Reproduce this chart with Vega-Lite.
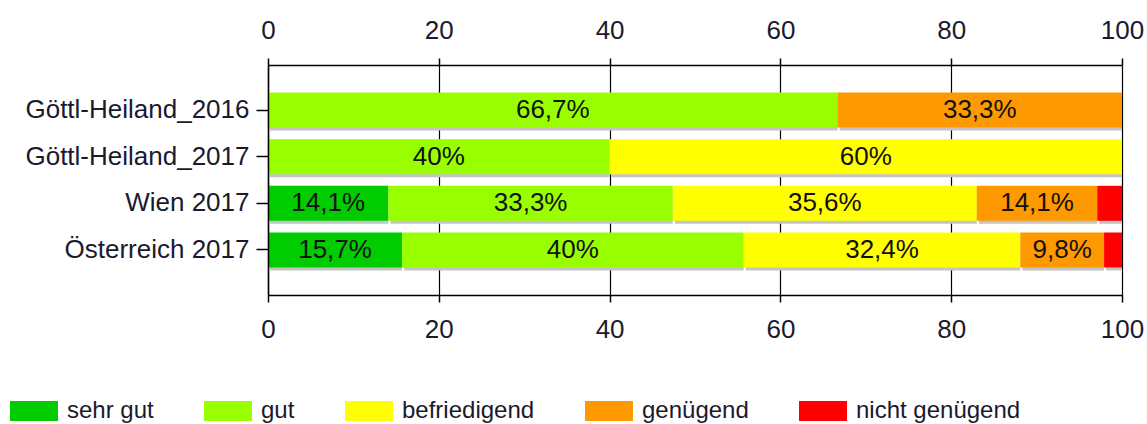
{
  "$schema": "https://vega.github.io/schema/vega-lite/v6.json",
  "autosize": {"type": "none"},
  "padding": {"left": 268, "top": 65, "right": 25, "bottom": 129},
  "width": 854,
  "height": 230,
  "background": "white",
  "config": {
    "view": {"stroke": null},
    "font": "Liberation Sans",
    "axis": {
      "domainColor": "#000",
      "tickColor": "#000",
      "gridColor": "#000",
      "domainWidth": 1.5,
      "tickWidth": 1.5,
      "gridWidth": 1.2,
      "labelColor": "#1a1a2e",
      "labelFont": "Liberation Sans",
      "labelFontSize": 26,
      "title": null
    },
    "legend": {
      "orient": "none",
      "legendX": -258,
      "legendY": 322,
      "direction": "horizontal",
      "title": null,
      "symbolType": "M-1,-0.42H1V0.42H-1Z",
      "symbolSize": 2304,
      "symbolStrokeWidth": 0,
      "symbolOpacity": 1,
      "labelFontSize": 24,
      "labelFont": "Liberation Sans",
      "labelColor": "#1a1a2e",
      "labelOffset": 9,
      "columnPadding": 50,
      "labelLimit": 400
    }
  },
  "data": {
    "values": [
      {"cat": "Göttl-Heiland_2016", "grade": "gut", "value": 66.7, "label": "66,7%"},
      {"cat": "Göttl-Heiland_2016", "grade": "genügend", "value": 33.3, "label": "33,3%"},
      {"cat": "Göttl-Heiland_2017", "grade": "gut", "value": 40, "label": "40%"},
      {"cat": "Göttl-Heiland_2017", "grade": "befriedigend", "value": 60, "label": "60%"},
      {"cat": "Wien 2017", "grade": "sehr gut", "value": 14.1, "label": "14,1%"},
      {"cat": "Wien 2017", "grade": "gut", "value": 33.3, "label": "33,3%"},
      {"cat": "Wien 2017", "grade": "befriedigend", "value": 35.6, "label": "35,6%"},
      {"cat": "Wien 2017", "grade": "genügend", "value": 14.1, "label": "14,1%"},
      {"cat": "Wien 2017", "grade": "nicht genügend", "value": 2.9, "label": ""},
      {"cat": "Österreich 2017", "grade": "sehr gut", "value": 15.7, "label": "15,7%"},
      {"cat": "Österreich 2017", "grade": "gut", "value": 40, "label": "40%"},
      {"cat": "Österreich 2017", "grade": "befriedigend", "value": 32.4, "label": "32,4%"},
      {"cat": "Österreich 2017", "grade": "genügend", "value": 9.8, "label": "9,8%"},
      {"cat": "Österreich 2017", "grade": "nicht genügend", "value": 2.1, "label": ""}
    ]
  },
  "transform": [
    {"calculate": "indexof(['sehr gut','gut','befriedigend','genügend','nicht genügend'], datum.grade)", "as": "rank"},
    {"stack": "value", "groupby": ["cat"], "sort": [{"field": "rank", "order": "ascending"}], "as": ["x0", "x1"]},
    {"calculate": "(datum.x0 + datum.x1) / 2", "as": "mid"}
  ],
  "layer": [
    {
      "mark": {"type": "bar", "color": "#c4c4c4", "xOffset": 2, "yOffset": 3},
      "encoding": {
        "x": {"field": "x0", "type": "quantitative", "scale": {"domain": [0, 100], "nice": false}, "axis": null},
        "x2": {"field": "x1"},
        "y": {
          "field": "cat", "type": "nominal",
          "sort": ["Göttl-Heiland_2016", "Göttl-Heiland_2017", "Wien 2017", "Österreich 2017"],
          "scale": {"paddingInner": 0.25, "paddingOuter": 0.59},
          "axis": {"tickSize": 12, "labelPadding": 7, "zindex": 1, "labelLimit": 300}
        }
      }
    },
    {
      "mark": {"type": "bar"},
      "encoding": {
        "x": {
          "field": "x0", "type": "quantitative",
          "scale": {"domain": [0, 100], "nice": false},
          "axis": {"orient": "bottom", "values": [0, 20, 40, 60, 80, 100], "grid": true, "tickSize": 7, "labelPadding": 14, "labelFlush": false, "zindex": 0}
        },
        "x2": {"field": "x1"},
        "y": {
          "field": "cat", "type": "nominal",
          "sort": ["Göttl-Heiland_2016", "Göttl-Heiland_2017", "Wien 2017", "Österreich 2017"]
        },
        "color": {
          "field": "grade", "type": "nominal",
          "scale": {
            "domain": ["sehr gut", "gut", "befriedigend", "genügend", "nicht genügend"],
            "range": ["#00cc00", "#99ff00", "#ffff00", "#ff9900", "#ff0000"]
          }
        }
      }
    },
    {
      "mark": {"type": "text", "align": "center", "baseline": "middle", "fontSize": 26, "color": "#111", "font": "Liberation Sans"},
      "encoding": {
        "x": {
          "field": "mid", "type": "quantitative",
          "scale": {"domain": [0, 100], "nice": false},
          "axis": {"orient": "top", "values": [0, 20, 40, 60, 80, 100], "grid": false, "tickSize": 7, "labelPadding": 15, "labelFlush": false, "zindex": 1}
        },
        "y": {
          "field": "cat", "type": "nominal",
          "sort": ["Göttl-Heiland_2016", "Göttl-Heiland_2017", "Wien 2017", "Österreich 2017"]
        },
        "text": {"field": "label"}
      }
    }
  ],
  "resolve": {"axis": {"x": "independent"}}
}
